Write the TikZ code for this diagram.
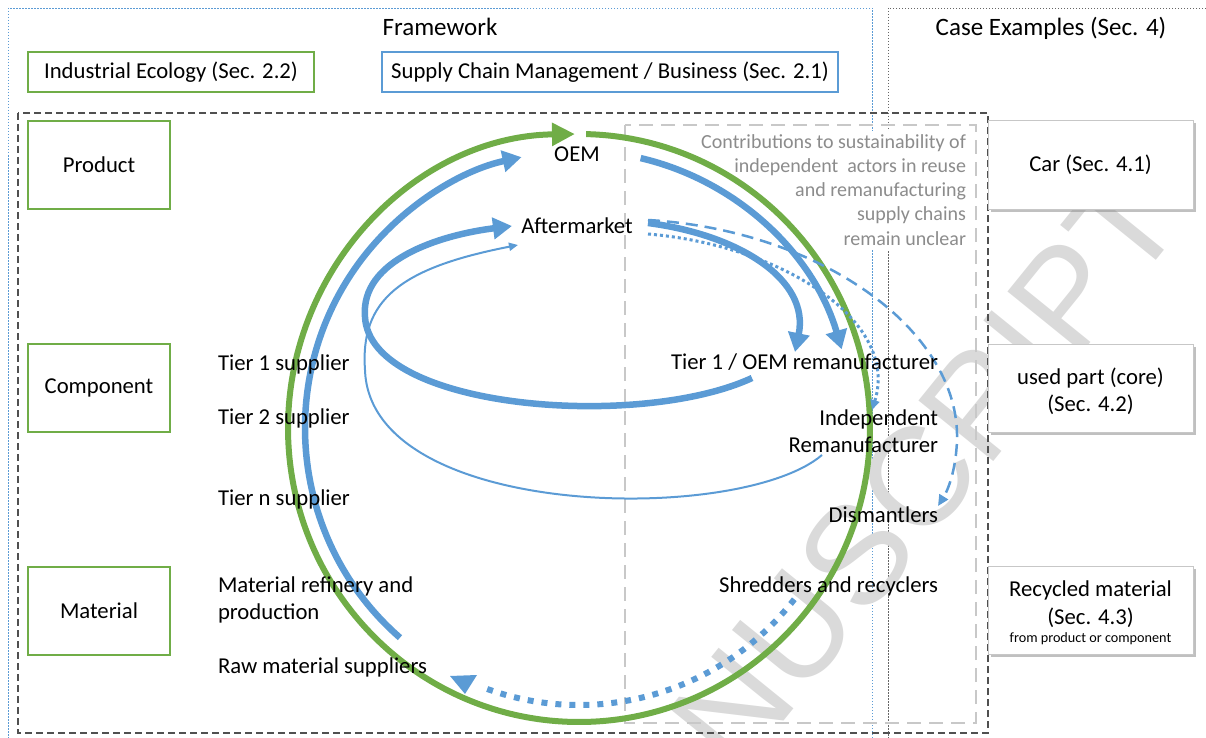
\documentclass[tikz,border=0pt]{standalone}
\usepackage{fontspec}
\setmainfont{Carlito}
\newfontfamily\wmfont{Liberation Sans}
\usetikzlibrary{arrows.meta,shadows}

\definecolor{ieGreen}{HTML}{70AD47}
\definecolor{scmBlue}{HTML}{5B9BD5}
\definecolor{frameDark}{HTML}{505050}
\definecolor{zoneGray}{HTML}{C8C8C8}
\definecolor{noteGray}{HTML}{8C8C8C}
\definecolor{markGray}{HTML}{DADADA}

\begin{document}
\begin{tikzpicture}[x=1pt,y=-1pt,
  every node/.style={inner sep=0pt,outer sep=0pt},
  lbl/.style={font=\fontsize{22.7}{27}\selectfont},
  head/.style={font=\fontsize{25}{30}\selectfont},
  note/.style={font=\fontsize{20}{24}\selectfont,text=noteGray},
  small/.style={font=\fontsize{14.2}{17}\selectfont},
  lvlbox/.style={draw=ieGreen,line width=2.2pt,fill=white,minimum width=142pt,minimum height=88pt,lbl},
  casebox/.style={draw=black!22,line width=1pt,fill=white,minimum width=205pt,minimum height=88pt,lbl,
    drop shadow={shadow xshift=2.5pt,shadow yshift=-2.5pt,fill=black!45,opacity=0.55}},
  greenflow/.style={draw=ieGreen,line width=6pt,-{Triangle[length=23pt,width=22pt]}},
  blueflow/.style={draw=scmBlue,line width=6.5pt,-{Triangle[length=19pt,width=21pt]}},
  thinflow/.style={draw=scmBlue,line width=2pt,-{Triangle[length=9pt,width=8pt]}},
  dashflow/.style={draw=scmBlue,line width=2.5pt,dash pattern=on 12pt off 7pt,-{Triangle[length=11pt,width=10pt]}},
  dotflow/.style={draw=scmBlue,line width=3pt,dash pattern=on 3pt off 3pt,-{Triangle[length=10pt,width=9pt]}},
  recycleflow/.style={draw=scmBlue,line width=6pt,dash pattern=on 6pt off 8pt},
]
\useasboundingbox (0,0) rectangle (1206,738);
\begin{scope}
\clip (0,0) rectangle (1206,738);

% outer frames: framework and case examples
\draw[scmBlue,line width=0.8pt,dash pattern=on 1.5pt off 1.5pt] (8,8) rectangle (872,760);
\draw[black!60,line width=0.8pt,dash pattern=on 1.5pt off 1.5pt] (888,8) rectangle (1240,760);

% watermark
\node[rotate=51,text=markGray,font=\wmfont\fontsize{140}{140}\selectfont] (wm) at (925,470) {NUSCRIPT};

% scope frames
\draw[frameDark,line width=2.7pt,dash pattern=on 7pt off 4pt] (18,113) rectangle (988,733);
\draw[zoneGray,line width=2pt,dash pattern=on 14pt off 8pt] (625,125) rectangle (976,723);

% note background
\fill[white] (690,131) rectangle (970,250);
\end{scope}

% headers
\node[head,anchor=base] (fw) at (440,36) {Framework};
\node[head,anchor=base] (ce) at (1051,36) {Case Examples (Sec. 4)};
\node[draw=ieGreen,line width=2.2pt,minimum width=286pt,minimum height=40pt,lbl] (ie) at (171,72) {Industrial Ecology (Sec. 2.2)};
\node[draw=scmBlue,line width=2.2pt,minimum width=456pt,minimum height=40pt,lbl] (scm) at (610,72) {Supply Chain Management / Business (Sec. 2.1)};

% level boxes
\node[lvlbox] (product) at (99,165) {Product};
\node[lvlbox] (component) at (99,388) {Component};
\node[lvlbox] (material) at (99,611) {Material};

% case boxes
\node[casebox] (car) at (1090.5,165) {Car (Sec. 4.1)};
\node[casebox] (core) at (1090.5,388) {};
\node[casebox] (recyc) at (1090.5,610.5) {};
\node[lbl,anchor=base] (coreA) at (1090.5,384.5) {used part (core)};
\node[lbl,anchor=base] (coreB) at (1090.5,411.5) {(Sec. 4.2)};
\node[lbl,anchor=base] (recA) at (1090.5,596.5) {Recycled material};
\node[lbl,anchor=base] (recB) at (1090.5,624.5) {(Sec. 4.3)};
\node[small,anchor=base] (recC) at (1090.5,642.5) {from product or component};

% note on independent actors
\node[note,anchor=base east] (n1) at (966,148.5) {Contributions to sustainability of};
\node[note,anchor=base east] (n2) at (966,172.5) {independent\ \ actors in reuse};
\node[note,anchor=base east] (n3) at (966,196.5) {and remanufacturing};
\node[note,anchor=base east] (n4) at (966,220.5) {supply chains};
\node[note,anchor=base east] (n5) at (966,245) {remain unclear};

% flow geometry
\coordinate (ctr) at (579,428);
\coordinate (amOut) at (648,223);
\coordinate (t1In) at (795,352);
\coordinate (t1Out) at (752,378);
\coordinate (loopL) at (365,317);
\coordinate (amIn) at (512,226);
\coordinate (indOut) at (822,455);
\coordinate (loopL2) at (365,370);
\coordinate (amIn2) at (518,245);
\coordinate (amDash) at (648,220);
\coordinate (dashMid) at (957,440);
\coordinate (dismIn) at (938,506);
\coordinate (amDot) at (648,234);
\coordinate (indIn) at (872,410);

% industrial ecology loop
\draw[greenflow] (ctr) ++(-88.6:291 and 294) arc[start angle=-88.6,end angle=269.2,x radius=291,y radius=294];

% forward supply chain to the OEM
\draw[blueflow] (ctr) ++(130.8:274 and 277) arc[start angle=130.8,end angle=257.9,x radius=274,y radius=277];
% OEM to remanufacturer
\draw[blueflow] (ctr) ++(-77:274 and 277) arc[start angle=-77,end angle=-16.5,x radius=274,y radius=277];
% remanufacturer to aftermarket
\draw[blueflow] (t1Out) .. controls (640,430) and (370,410) .. (loopL) .. controls (360,260) and (440,235) .. (amIn);
% aftermarket to remanufacturer
\draw[blueflow] (amOut) .. controls (740,235) and (810,280) .. (t1In);
% independent remanufacturer to aftermarket
\draw[thinflow] (indOut) .. controls (740,525) and (370,520) .. (loopL2) .. controls (360,300) and (400,268) .. (amIn2);
% aftermarket to dismantlers
\draw[dashflow] (amDash) .. controls (820,230) and (960,330) .. (dashMid) .. controls (956,470) and (948,490) .. (dismIn);
% aftermarket to independent remanufacturer
\draw[dotflow] (amDot) .. controls (780,245) and (900,320) .. (indIn);
% recycling back to raw material suppliers
\draw[recycleflow] (ctr) ++(38.2:274 and 277) arc[start angle=38.2,end angle=110,x radius=274,y radius=277];
\fill[scmBlue] (450,676) -- (477,675) -- (465,694) -- cycle;

% actor labels
\node[lbl,anchor=base] (oem) at (577,161) {OEM};
\node[lbl,anchor=base] (am) at (577,233) {Aftermarket};
\node[lbl,anchor=base west] (tier1) at (218,370) {Tier 1 supplier};
\node[lbl,anchor=base west] (tier2) at (218,424) {Tier 2 supplier};
\node[lbl,anchor=base west] (tiern) at (218,505) {Tier n supplier};
\node[lbl,anchor=base west] (refA) at (218,592) {Material refinery and};
\node[lbl,anchor=base west] (refB) at (218,619) {production};
\node[lbl,anchor=base west] (raw) at (218,673) {Raw material suppliers};
\node[lbl,anchor=base east] (reman) at (938,369) {Tier 1 / OEM remanufacturer};
\node[lbl,anchor=base east] (indA) at (938,425) {Independent};
\node[lbl,anchor=base east] (indB) at (938,452) {Remanufacturer};
\node[lbl,anchor=base east] (dism) at (938,522) {Dismantlers};
\node[lbl,anchor=base east] (shred) at (938,592) {Shredders and recyclers};
\end{tikzpicture}
\end{document}
